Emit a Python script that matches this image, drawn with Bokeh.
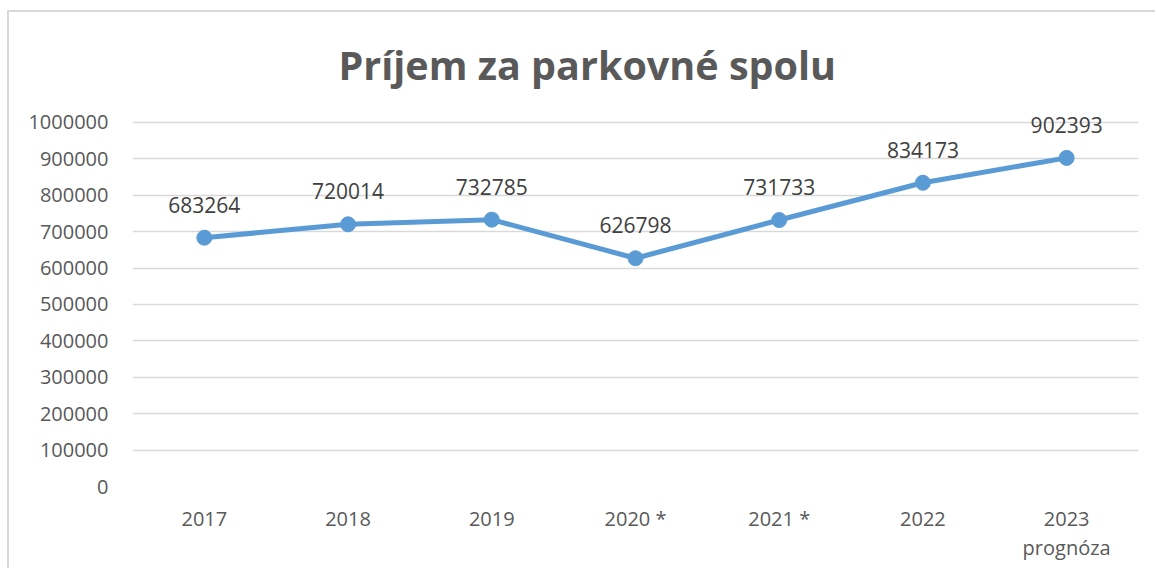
from bokeh.plotting import figure
from bokeh.models import ColumnDataSource, FixedTicker, Range1d, FactorRange
from bokeh.core.properties import value
from bokeh.embed import file_html
from bokeh.resources import INLINE

years = ["2017", "2018", "2019", "2020 *", "2021 *", "2022", "2023\nprognóza"]
income = [683264, 720014, 732785, 626798, 731733, 834173, 902393]
y_ticks = [0, 100000, 200000, 300000, 400000, 500000, 600000, 700000, 800000, 900000, 1000000]
title_text = "Príjem za parkovné spolu"

src = ColumnDataSource(dict(x=years, y=income, lbl=[str(v) for v in income]))

FONT = "Open Sans"
GREY = "#595959"
BLUE = "#5B9BD5"

p = figure(width=1148, height=558, x_range=FactorRange(*years, range_padding=0),
           y_range=Range1d(0, 1060000), output_backend="svg", toolbar_location=None,
           min_border_left=123, min_border_right=19, min_border_top=88, min_border_bottom=84)
p.styles = {"margin-left": "7px", "margin-top": "10px",
            "border-left": "2px solid #d9d9d9", "border-top": "2px solid #d9d9d9"}
p.outline_line_color = None
p.background_fill_color = "white"

p.title.text = title_text
p.title.align = "left"
p.title.offset = 206
p.title.standoff = 18
p.title.text_font = FONT
p.title.text_font_style = "bold"
p.title.text_font_size = "39.5px"
p.title.text_color = GREY

p.line("x", "y", source=src, line_color=BLUE, line_width=5)
p.scatter("x", "y", source=src, size=15, fill_color=BLUE, line_color=BLUE)
p.text("x", "y", text="lbl", source=src, text_align="center", text_baseline="middle",
       y_offset=-33, text_font=value(FONT), text_font_size="21px", text_color="#404040")

p.yaxis.ticker = FixedTicker(ticks=y_ticks)
p.yaxis.major_label_overrides = {t: str(t) for t in y_ticks}
for ax in (p.xaxis, p.yaxis):
    ax.axis_line_color = None
    ax.major_tick_line_color = None
    ax.minor_tick_line_color = None
    ax.major_label_text_font = FONT
    ax.major_label_text_color = GREY
    ax.major_label_text_font_size = "20px"
p.yaxis.major_label_standoff = 18
p.xaxis.major_label_standoff = 12
p.xaxis.major_label_text_line_height = 1.1

p.xgrid.grid_line_color = None
p.ygrid.grid_line_color = "#d9d9d9"
p.ygrid.grid_line_width = 1.5

open("out.html", "w").write(file_html(p, INLINE))
